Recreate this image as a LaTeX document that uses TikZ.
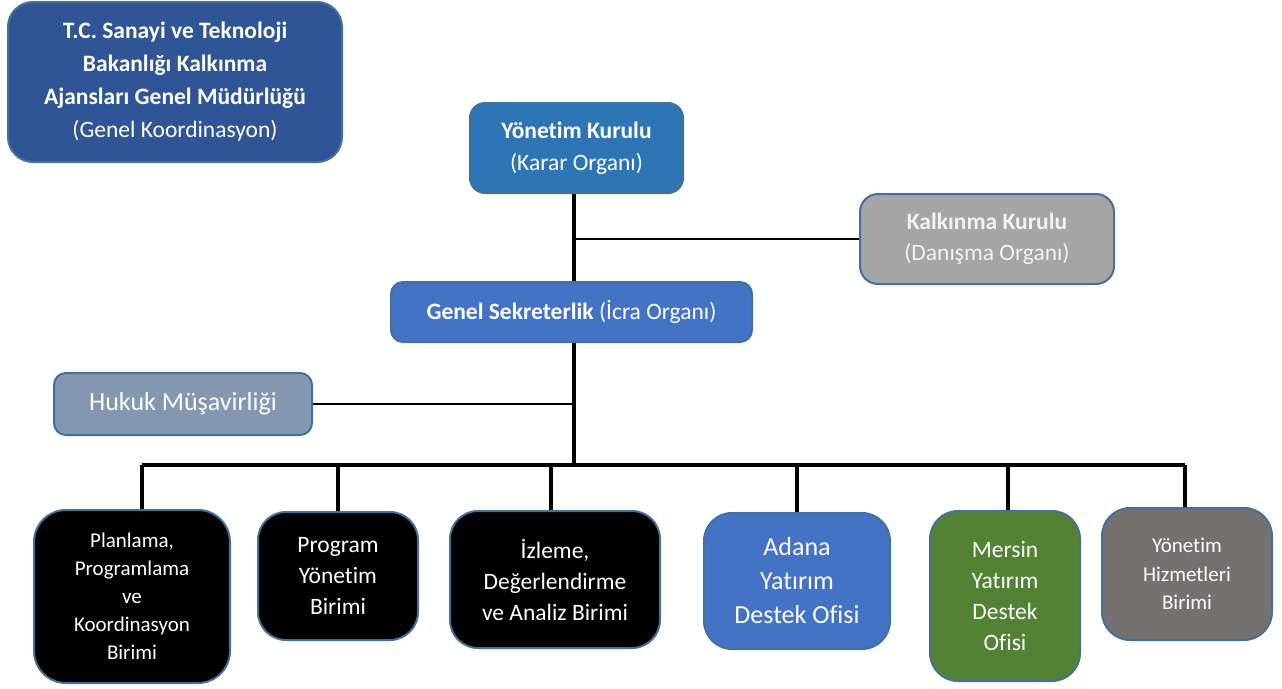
\documentclass[tikz,border=0pt]{standalone}
\usepackage{fontspec}
\setmainfont{Carlito}[Ligatures={NoCommon,NoContextual}]
\definecolor{tcblue}{HTML}{2F5597}
\definecolor{ykblue}{HTML}{2E75B6}
\definecolor{gsblue}{HTML}{4472C4}
\definecolor{kkgray}{HTML}{A5A5A5}
\definecolor{hmgray}{HTML}{8497B0}
\definecolor{mygreen}{HTML}{548235}
\definecolor{yhgray}{HTML}{767171}
\definecolor{edgeblue}{HTML}{41719C}
\tikzset{
  box/.style = {draw=edgeblue, line width=2pt, rounded corners=15pt, text=white, align=center, inner sep=0pt},
  unit/.style = {box, rounded corners=28pt},
  trunkline/.style = {line width=3.5pt},
  sideline/.style = {line width=1.2pt}
}

\begin{document}
\begin{tikzpicture}[x=1pt, y=-1pt]
        \useasboundingbox (0,0) rectangle (1282,688);
        \node [box, fill=tcblue, rounded corners=25pt, minimum width=334pt, minimum height=160pt,
          font=\fontsize{23.5}{33}\selectfont] (bak) at (175,82)
          {\textbf{T.C. Sanayi ve Teknoloji}\\\textbf{Bakanlığı Kalkınma}\\\textbf{Ajansları Genel Müdürlüğü}\\(Genel Koordinasyon)};
        \node [box, fill=ykblue, minimum width=213pt, minimum height=90pt,
          font=\fontsize{23.5}{32}\selectfont] (yk) at (576.5,148)
          {\textbf{Yönet\kern0pt im Kurulu}\\(Karar Organı)};
        \node [box, fill=kkgray, text=white!95!black, rounded corners=18pt, minimum width=254pt, minimum height=90pt,
          font=\fontsize{23.5}{31}\selectfont] (kk) at (987,239)
          {\textbf{Kalkınma Kurulu}\\(Danışma Organı)};
        \node [box, fill=gsblue, rounded corners=12pt, minimum width=361pt, minimum height=60pt,
          font=\fontsize{23.5}{30}\selectfont] (gs) at (571.5,312)
          {\textbf{Genel Sekreterlik} (İcra Organı)};
        \node [box, fill=hmgray, rounded corners=12pt, minimum width=258pt, minimum height=62pt,
          font=\fontsize{26}{30}\selectfont] (hm) at (183,404)
          {Hukuk Müşavirliği};

        \coordinate (trunk) at (574,0);
        \draw [trunkline] (yk.south -| trunk) -- (gs.north -| trunk);
        \draw [sideline] (kk.west) -- (kk.west -| trunk);
        \draw [trunkline] (gs.south -| trunk) -- (574,465);
        \draw [sideline] (hm.east) -- (hm.east -| trunk);
        \draw [trunkline] (142,465) -- (1185,465);

        \node [unit, fill=black, rounded corners=32pt, minimum width=196pt, minimum height=173pt,
          font=\fontsize{21}{28}\selectfont] (ppk) at (132,596.5)
          {Planlama,\\Programlama\\ve\\Koordinasyon\\Birimi};
        \node [unit, fill=black, minimum width=160pt, minimum height=128pt,
          font=\fontsize{23.5}{31}\selectfont] (pyb) at (338,576)
          {Program\\Yönet\kern0pt im\\Birimi};
        \node [unit, fill=black, minimum width=210pt, minimum height=137pt,
          font=\fontsize{23.5}{31}\selectfont] (idab) at (555,579.5)
          {İzleme,\\Değerlendirme\\ve Analiz Birimi};
        \node [unit, fill=gsblue, minimum width=186pt, minimum height=136pt,
          font=\fontsize{26}{34}\selectfont] (aydo) at (797,581)
          {Adana\\Yatırım\\Destek Ofisi};
        \node [unit, fill=mygreen, minimum width=150pt, minimum height=170pt,
          font=\fontsize{23.5}{31}\selectfont] (mydo) at (1005,596)
          {Mersin\\Yatırım\\Destek\\Ofisi};
        \node [unit, fill=yhgray, minimum width=170pt, minimum height=132pt,
          font=\fontsize{21}{28.5}\selectfont] (yhb) at (1187,574)
          {Yönet\kern0pt im\\Hizmetleri\\Birimi};

        \draw [trunkline] (142,465) -- (142,465 |- ppk.north);
        \draw [trunkline] (pyb.north |- 0,465) -- (pyb.north);
        \draw [trunkline] (551,465) -- (551,465 |- idab.north);
        \draw [trunkline] (aydo.north |- 0,465) -- (aydo.north);
        \draw [trunkline] (1008,465) -- (1008,465 |- mydo.north);
        \draw [trunkline] (1185,465) -- (1185,465 |- yhb.north);
      \end{tikzpicture}
\end{document}
